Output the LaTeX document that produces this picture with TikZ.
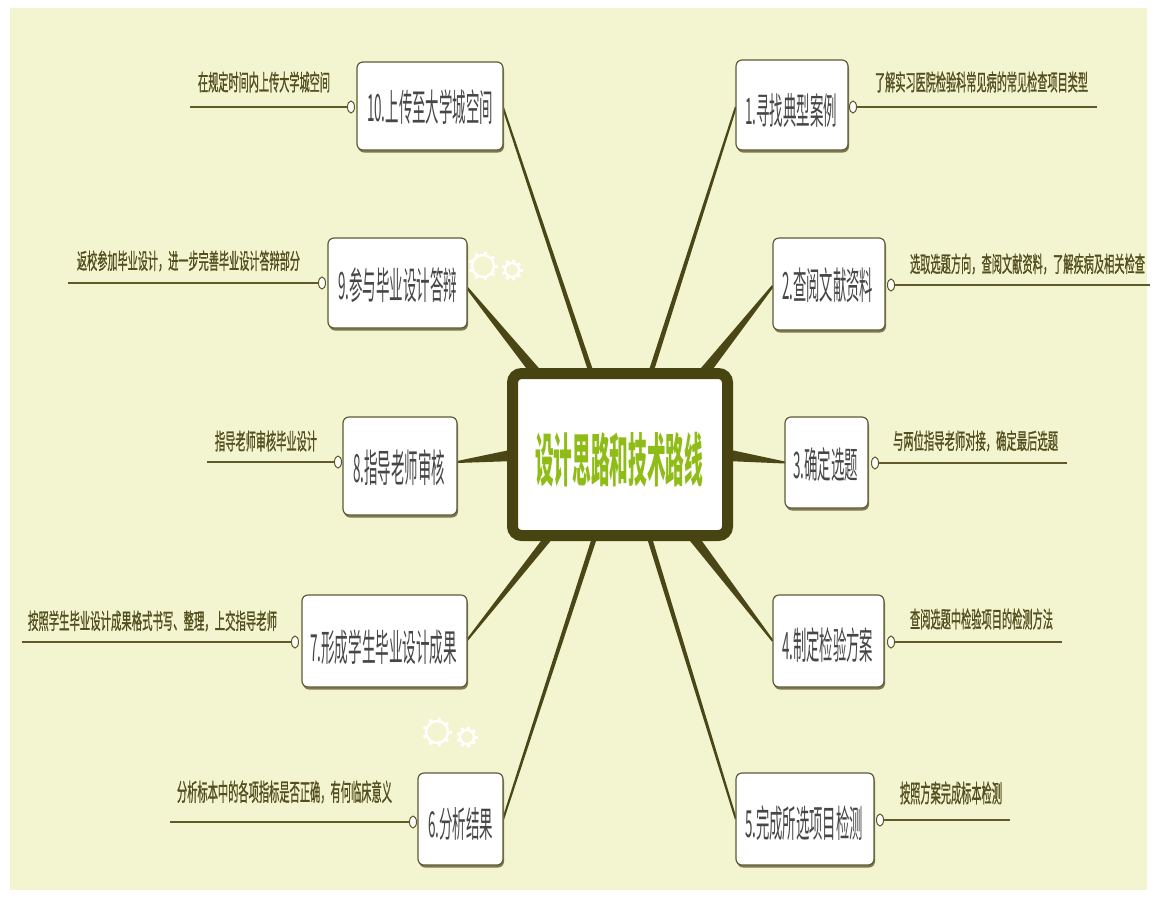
\documentclass[tikz,border=0pt]{standalone}
\usepackage{fontspec}
\usepackage{graphicx}
\usetikzlibrary{calc,shapes.geometric}
\newfontfamily\cjk{Noto Sans CJK SC}
\newfontfamily\cjklab{Noto Sans CJK SC}[FakeBold=1.2]
\definecolor{bgc}{RGB}{243,244,208}
\definecolor{connc}{RGB}{74,70,22}
\definecolor{boxc}{RGB}{95,90,55}
\definecolor{shadc}{RGB}{125,120,80}
\definecolor{nodetc}{RGB}{70,70,70}
\definecolor{labc}{RGB}{82,78,30}
\definecolor{linec}{RGB}{95,90,40}
\definecolor{centc}{RGB}{72,68,18}
\definecolor{greenc}{RGB}{143,188,22}
\newcommand\fit[3]{\resizebox*{#1pt}{#2pt}{#3}}
\newcommand\taper[4]{\fill[conn] let \p1=(#1), \p2=(#2), \n1={atan2(\y2-\y1,\x2-\x1)} in
  ($(\p1)+(\n1+90:#3pt)$) -- ($(\p2)+(\n1+90:#4pt)$) -- ($(\p2)+(\n1-90:#4pt)$) -- ($(\p1)+(\n1-90:#3pt)$) -- cycle;}
\newcommand\bnode[5]{%
  \node[bshadow, minimum width=#4pt, minimum height=#5pt] at (#2+1,#3+2.5) {};
  \node[bbox, minimum width=#4pt, minimum height=#5pt] (#1) at (#2,#3) {};}
\newcommand\gear[4]{%
  \node[circle, draw=white, line width=2.4pt, minimum size=#4*2pt, inner sep=0pt] (#1) at (#2,#3) {};
  \foreach \a in {0,40,...,320} \draw[white, line width=3pt] (#1.center) ++(\a:#4pt) -- ++(\a:3.5pt);}
\begin{document}
\begin{tikzpicture}[x=1pt,y=-1pt,
  conn/.style={fill=connc},
  bbox/.style={draw=boxc, line width=1.2pt, fill=white, rounded corners=6pt, inner sep=0pt},
  bshadow/.style={fill=shadc, rounded corners=6pt, inner sep=0pt, draw=none},
  ntext/.style={inner sep=0pt, text=nodetc, font=\cjk},
  ltext/.style={inner sep=0pt, text=labc, font=\cjklab},
  uline/.style={draw=linec, line width=2.2pt},
  knob/.style={ellipse, draw=linec, fill=white, line width=1pt, minimum width=7pt, minimum height=12pt, inner sep=0pt}]
\useasboundingbox (0,0) rectangle (1155,898);
\fill[white] (0,0) rectangle (1155,898);
\fill[bgc] (10,8) rectangle (1147,890);

\coordinate (c1) at (650,375);
\coordinate (c10) at (592,375);
\coordinate (c9) at (542,380);
\coordinate (c2) at (698,380);
\coordinate (c8) at (515,455);
\coordinate (c3) at (726,455);
\coordinate (c7) at (552,533);
\coordinate (c4) at (690,533);
\coordinate (c6) at (596,533);
\coordinate (c5) at (648,533);

\node[inner sep=0pt, minimum width=112pt, minimum height=90pt] (n1) at (792,105) {};
\node[inner sep=0pt, minimum width=146pt, minimum height=88pt] (n10) at (430,106) {};
\node[inner sep=0pt, minimum width=139pt, minimum height=90pt] (n9) at (397.5,283) {};
\node[inner sep=0pt, minimum width=112pt, minimum height=92pt] (n2) at (829,284) {};
\node[inner sep=0pt, minimum width=114pt, minimum height=98pt] (n8) at (400,466) {};
\node[inner sep=0pt, minimum width=83pt, minimum height=91pt] (n3) at (826.5,462.5) {};
\node[inner sep=0pt, minimum width=165pt, minimum height=92pt] (n7) at (384.5,641) {};
\node[inner sep=0pt, minimum width=111pt, minimum height=92pt] (n4) at (828.5,641) {};
\node[inner sep=0pt, minimum width=85pt, minimum height=92pt] (n6) at (460.5,819) {};
\node[inner sep=0pt, minimum width=138pt, minimum height=92pt] (n5) at (805,819) {};

% connectors
\taper{c1}{$(n1.west)+(0,2)$}{2.5}{1}
\taper{c10}{$(n10.east)+(0,2)$}{2.5}{1}
\taper{c9}{$(n9.east)+(0,5)$}{5.5}{1.2}
\taper{c2}{$(n2.west)+(0,2)$}{5.5}{1.2}
\taper{c8}{$(n8.east)+(0,-4)$}{6}{1}
\taper{c3}{$(n3.west)+(0,0)$}{6}{1}
\taper{c7}{$(n7.east)+(0,-1)$}{4}{1}
\taper{c4}{$(n4.west)+(0,0)$}{5}{1}
\taper{c6}{$(n6.east)+(0,0)$}{2.5}{1}
\taper{c5}{$(n5.west)+(0,0)$}{2.5}{1}

\bnode{b1}{792}{105}{112}{90}
\bnode{b10}{430}{106}{146}{88}
\bnode{b9}{397.5}{283}{139}{90}
\bnode{b2}{829}{284}{112}{92}
\bnode{b8}{400}{466}{114}{98}
\bnode{b3}{826.5}{462.5}{83}{91}
\bnode{b7}{384.5}{641}{165}{92}
\bnode{b4}{828.5}{641}{111}{92}
\bnode{b6}{460.5}{819}{85}{92}
\bnode{b5}{805}{819}{138}{92}

\node[ntext] (t1) at (791,110) {\fit{92}{34}{1.寻找典型案例}};
\node[ntext] (t10) at (430,107) {\fit{126}{35}{10.上传至大学城空间}};
\node[ntext] (t9) at (397.5,285) {\fit{119}{35}{9.参与毕业设计答辩}};
\node[ntext] (t2) at (827.5,285) {\fit{91}{35}{2.查阅文献资料}};
\node[ntext] (t8) at (399,468) {\fit{92}{36}{8.指导老师审核}};
\node[ntext] (t3) at (825.5,465) {\fit{65}{34}{3.确定选题}};
\node[ntext] (t7) at (383.5,647) {\fit{147}{35}{7.形成学生毕业设计成果}};
\node[ntext] (t4) at (827.5,645) {\fit{91}{35}{4.制定检验方案}};
\node[ntext] (t6) at (460.5,824) {\fit{65}{33}{6.分析结果}};
\node[ntext] (t5) at (804,823) {\fit{118}{35}{5.完成所选项目检测}};

\coordinate (e1) at (1097,107);
\coordinate (e10) at (190,107);
\coordinate (e9) at (68,283);
\coordinate (e2) at (1150,285);
\coordinate (e8) at (207,462);
\coordinate (e3) at (1067,463);
\coordinate (e7) at (22,642);
\coordinate (e4) at (1062,642);
\coordinate (e6) at (170,822);
\coordinate (e5) at (1010,820);
\node[knob] (o1) at (853,107) {};
\node[knob] (o10) at (351,107) {};
\node[knob] (o9) at (322,283) {};
\node[knob] (o2) at (891,285) {};
\node[knob] (o8) at (338,462) {};
\node[knob] (o3) at (875,463) {};
\node[knob] (o7) at (295,642) {};
\node[knob] (o4) at (891,642) {};
\node[knob] (o6) at (413,822) {};
\node[knob] (o5) at (880,820) {};
\draw[uline] (o1.east) -- (e1);
\draw[uline] (o10.west) -- (e10);
\draw[uline] (o9.west) -- (e9);
\draw[uline] (o2.east) -- (e2);
\draw[uline] (o8.west) -- (e8);
\draw[uline] (o3.east) -- (e3);
\draw[uline] (o7.west) -- (e7);
\draw[uline] (o4.east) -- (e4);
\draw[uline] (o6.west) -- (e6);
\draw[uline] (o5.east) -- (e5);

\node[ltext] (l1) at (981.5,82) {\fit{213}{21}{了解实习医院检验科常见病的常见检查项目类型}};
\node[ltext] (l10) at (264,82) {\fit{132}{21}{在规定时间内上传大学城空间}};
\node[ltext] (l9) at (188.5,261) {\fit{223}{21}{返校参加毕业设计，进一步完善毕业设计答辩部分}};
\node[ltext] (l2) at (1027.5,264) {\fit{235}{21}{选取选题方向，查阅文献资料，了解疾病及相关检查}};
\node[ltext] (l8) at (266,441) {\fit{102}{21}{指导老师审核毕业设计}};
\node[ltext] (l3) at (975.5,441) {\fit{165}{21}{与两位指导老师对接，确定最后选题}};
\node[ltext] (l7) at (152.5,621) {\fit{249}{21}{按照学生毕业设计成果格式书写、整理，上交指导老师}};
\node[ltext] (l4) at (981.5,619) {\fit{143}{21}{查阅选题中检验项目的检测方法}};
\node[ltext] (l6) at (284.5,792) {\fit{215}{23}{分析标本中的各项指标是否正确，有何临床意义}};
\node[ltext] (l5) at (951,793) {\fit{102}{23}{按照方案完成标本检测}};

\node[draw=centc, line width=11pt, fill=white, rounded corners=9pt, minimum width=215pt, minimum height=162pt, inner sep=0pt] (ctr) at (620,454.5) {};
\node[inner sep=0pt, text=greenc, font=\cjk\bfseries] (ct) at (619,459.5) {\fit{168}{55}{设计思路和技术路线}};

\gear{g1}{483}{266}{11}
\gear{g2}{512}{270}{7}
\gear{g3}{437}{732}{11}
\gear{g4}{467}{737}{7}
\end{tikzpicture}
\end{document}
